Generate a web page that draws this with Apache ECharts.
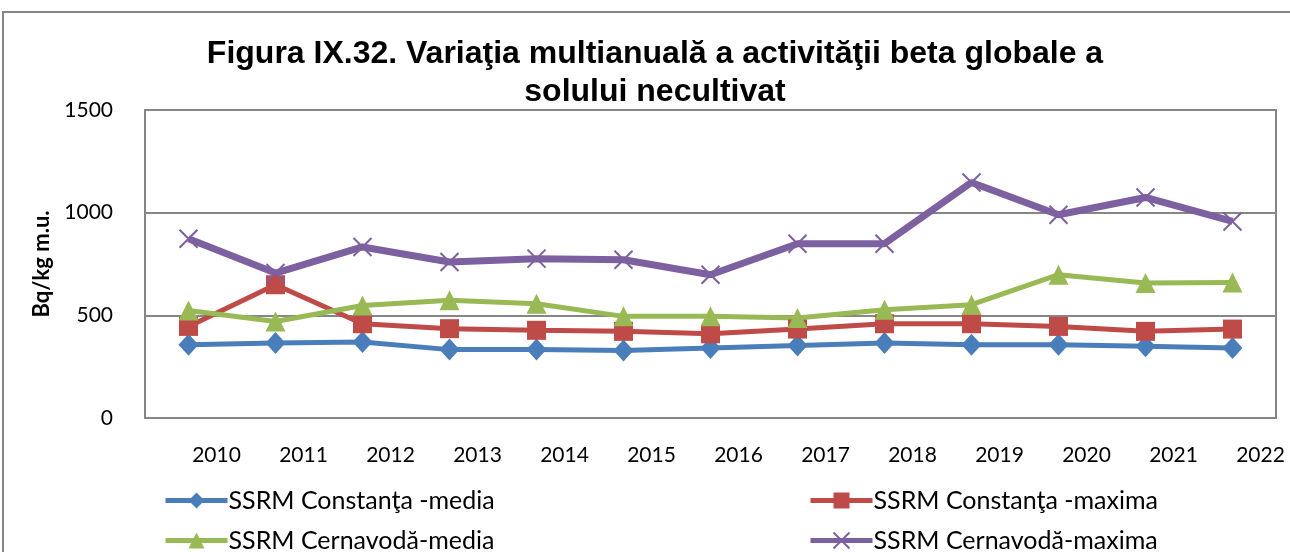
<!DOCTYPE html>
<html>
<head>
<meta charset="utf-8">
<script src="https://cdn.jsdelivr.net/npm/echarts@6/dist/echarts.min.js"></script>
<style>
  html, body { margin: 0; padding: 0; background: #fff; }
  #chart { width: 1290px; height: 552px; }
</style>
</head>
<body>
<div id="chart"></div>
<script>
// ani
const years = ['2010', '2011', '2012', '2013', '2014', '2015', '2016', '2017', '2018', '2019', '2020', '2021', '2022']
const constantaMedia = [357, 365, 370, 333, 333, 329, 341, 353, 365, 357, 357, 349, 341]
const constantaMaxima = [446, 649, 459, 435, 427, 422, 410, 433, 459, 459, 446, 422, 433]
const cernavodaMedia = [524, 470, 548, 573, 556, 495, 495, 487, 527, 552, 698, 657, 660]
const cernavodaMaxima = [873, 706, 833, 760, 776, 771, 698, 849, 849, 1147, 990, 1074, 957]
const yTicks = [0, 500, 1000, 1500]

const names = [
  'SSRM Constanţa -media',
  'SSRM Constanţa -maxima',
  'SSRM Cernavodă-media',
  'SSRM Cernavodă-maxima'
]

const font = 'Lato, "Noto Sans", sans-serif'
const xPath = 'path://M0,0L10,10M10,0L0,10'

function legendAt(name, left, top) {
  return {
    data: [name],
    left: left,
    top: top,
    itemWidth: 62,
    itemHeight: 20,
    itemGap: 0,
    lineStyle: { width: 5 },
    textStyle: { fontFamily: font, fontSize: 25, color: '#000', padding: [0, 0, 0, -4] }
  }
}

const option = {
  animation: false,
  backgroundColor: '#fff',
  title: {
    text: 'Figura IX.32. Variaţia multianuală a activităţii beta globale a\nsolului necultivat',
    left: 650,
    textAlign: 'center',
    top: 30,
    textStyle: {
      fontFamily: '"Liberation Sans", Arial, sans-serif',
      fontSize: 32,
      fontWeight: 'bold',
      lineHeight: 38,
      color: '#000'
    }
  },
  graphic: [{
    type: 'rect',
    shape: { x: 3, y: 12, width: 1300, height: 560 },
    style: { fill: 'none', stroke: '#868686', lineWidth: 2 },
    silent: true
  }],
  legend: [
    legendAt(names[0], 158, 483),
    legendAt(names[1], 803, 483),
    legendAt(names[2], 158, 523),
    legendAt(names[3], 803, 523)
  ],
  grid: { left: 145, right: 14, top: 110, bottom: 134, show: true, borderColor: '#868686', borderWidth: 2 },
  xAxis: {
    type: 'category',
    data: years,
    boundaryGap: true,
    axisLine: { show: true, lineStyle: { color: '#868686', width: 2 } },
    axisTick: { show: false },
    axisLabel: {
      interval: 0,
      margin: 27,
      padding: [0, 0, 0, 56],
      fontFamily: font,
      fontSize: 21,
      color: '#000'
    }
  },
  yAxis: {
    type: 'value',
    min: yTicks[0],
    max: yTicks[yTicks.length - 1],
    interval: 500,
    name: 'Bq/kg m.u.',
    nameLocation: 'middle',
    nameRotate: 90,
    nameGap: 88,
    nameTextStyle: { fontFamily: font, fontSize: 22, fontWeight: 'bold', color: '#000' },
    axisLine: { show: true, lineStyle: { color: '#868686', width: 2 } },
    axisTick: { show: false },
    splitLine: { lineStyle: { color: '#868686', width: 2 } },
    axisLabel: {
      margin: 32,
      fontFamily: font,
      fontSize: 21,
      color: '#000',
      formatter: (v) => String(v)
    }
  },
  series: [
    {
      name: names[0],
      type: 'line',
      data: constantaMedia,
      symbol: 'diamond',
      symbolSize: [20, 22],
      color: '#4a7ebb',
      lineStyle: { width: 5, color: '#4a7ebb' },
      itemStyle: { color: '#4a7ebb' }
    },
    {
      name: names[1],
      type: 'line',
      data: constantaMaxima,
      symbol: 'rect',
      symbolSize: 19,
      color: '#be4b48',
      lineStyle: { width: 5, color: '#be4b48' },
      itemStyle: { color: '#be4b48' }
    },
    {
      name: names[2],
      type: 'line',
      data: cernavodaMedia,
      symbol: 'triangle',
      symbolSize: [20, 20],
      color: '#98b954',
      lineStyle: { width: 5, color: '#98b954' },
      itemStyle: { color: '#98b954' }
    },
    {
      name: names[3],
      type: 'line',
      data: cernavodaMaxima,
      symbol: xPath,
      symbolSize: 18,
      color: '#7d60a0',
      lineStyle: { width: 7, color: '#7d60a0' },
      itemStyle: { color: '#7d60a0', borderColor: '#7d60a0', borderWidth: 2 }
    }
  ]
}

const chart = echarts.init(document.getElementById('chart'))
chart.setOption(option)
</script>
</body>
</html>
